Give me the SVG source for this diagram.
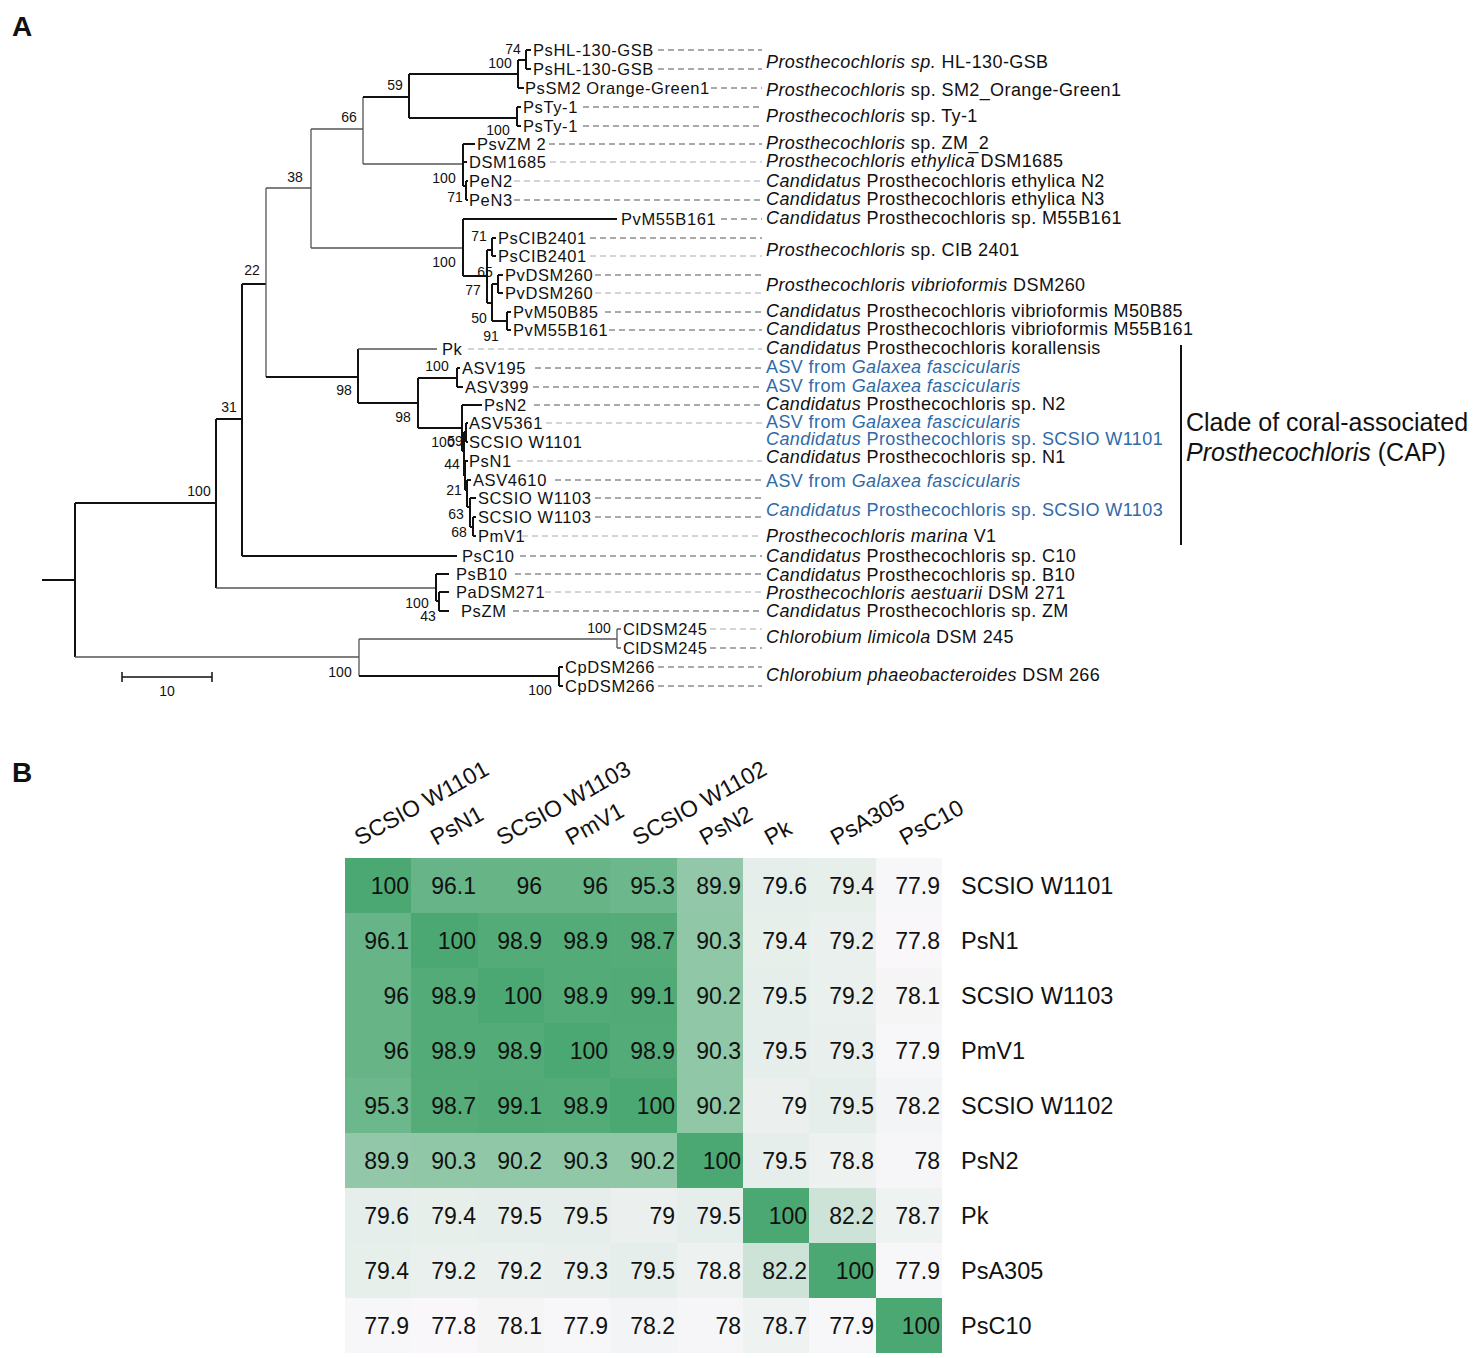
<svg xmlns="http://www.w3.org/2000/svg" width="1479" height="1358" viewBox="0 0 1479 1358">
<style>
text{font-family:"Liberation Sans",Arial,sans-serif;fill:#111}
.pl{font-size:28px;font-weight:bold}
.lf{font-size:16.5px;letter-spacing:0.6px}
.sp{font-size:14px;text-anchor:middle}
.rl{font-size:18px;letter-spacing:0.4px}
.bl{fill:#2f6aa8}
.i{font-style:italic}
.cl{font-size:25px}
.b{fill:none;stroke:#111;stroke-width:2}
.g{fill:none;stroke:#555;stroke-width:1.3}
.d{fill:none;stroke:#555;stroke-width:1;stroke-dasharray:6 4}
.dl{fill:none;stroke:#aaa;stroke-width:1;stroke-dasharray:6 4}
.hn{font-size:23px;text-anchor:end}
.hr{font-size:23.5px}
.hh{font-size:23px}
</style>
<rect width="1479" height="1358" fill="#fff"/>
<text class="pl" x="12" y="36">A</text>
<text class="pl" x="12" y="782">B</text>

<g id="tree">
<path class="b" d="M42,580H75M75,503V657M75,503H216"/>
<path class="g" d="M75,657H359"/>
<path class="b" d="M216,419V588M216,419H242"/>
<path class="g" d="M216,588H436"/>
<path class="b" d="M242,284V556M242,284H266M242,556H457"/>
<path class="g" d="M266,188V377M266,188H311"/>
<path class="b" d="M266,377H358"/>
<path class="g" d="M311,129V248M311,129H363M311,248H463"/>
<path class="g" d="M363,97V164M363,164H463"/>
<path class="b" d="M363,97H409M409,74V118M409,74H518M409,118H517"/>
<path class="b" d="M518,60V88M518,60H526M518,88H524M526,50V69M526,50H531M526,69H531"/>
<path class="b" d="M517,107V126M517,107H521M517,126H521"/>
<path class="b" d="M463,144V186M463,144H475M463,162H467M463,186H466M466,181V200M466,181H468M466,200H468"/>
<path class="b" d="M463,219V276M463,219H617M463,276H487M487,250V303M487,250H492M487,303H492"/>
<path class="b" d="M492,238V256M492,238H496M492,256H496M492,284V321M492,284H498M492,321H507M498,275V293M498,275H503M498,293H503M507,312V330M507,312H511M507,330H511"/>
<path class="b" d="M358,349V403M358,403H418M418,378V428M418,378H457M418,428H462"/>
<path class="g" d="M358,349H437"/>
<path class="b" d="M457,368V387M457,368H460M457,387H463"/>
<path class="b" d="M462,405V451M462,405H482M462,451H464M464,432V476M464,432H466M464,476H465M466,423V442M466,423H468M466,442H468"/>
<path class="b" d="M465,461V490M465,461H468M465,490H467M467,480V507M467,480H471M467,507H470M470,498V527M470,498H476M470,527H473M473,517V536M473,517H476M473,536H476"/>
<path class="b" d="M436,574V601M436,574H449M436,601H439M439,592V611M439,592H449M439,611H449"/>
<path class="g" d="M359,639V676M359,639H617M617,629V648M617,629H621M617,648H621"/>
<path class="b" d="M359,676H559M559,667V686M559,667H563M559,686H563"/>
<path class="b" d="M122,677H212M122,672V682M212,672V682" style="stroke-width:1.5"/>
</g>

<g id="dashes">
<path class="d" d="M658,50H762M658,69H762M711,88H762M583,107H762M583,126H762M549,144H762"/>
<path class="dl" d="M550,162H762M514,181H762"/>
<path class="d" d="M514,200H762M721,219H762M590,238H762"/>
<path class="dl" d="M590,256H762"/>
<path class="d" d="M595,275H762"/>
<path class="dl" d="M595,293H762"/>
<path class="d" d="M605,312H762M609,330H762"/>
<path class="dl" d="M468,349H762"/>
<path class="d" d="M535,368H762M533,387H762M534,405H762"/>
<path class="dl" d="M546,423H762M517,461H762"/>
<path class="d" d="M555,480H762M595,498H762M595,517H762"/>
<path class="dl" d="M522,536H762"/>
<path class="d" d="M520,556H762M515,574H762"/>
<path class="dl" d="M545,592H762"/>
<path class="d" d="M513,611H762"/>
<path class="dl" d="M710,629H762"/>
<path class="d" d="M710,648H762M658,667H762M658,686H762"/>
</g>

<g id="leaves">
<text class="lf" x="533" y="56">PsHL-130-GSB</text>
<text class="lf" x="533" y="75">PsHL-130-GSB</text>
<text class="lf" x="525" y="94">PsSM2 Orange-Green1</text>
<text class="lf" x="523" y="113">PsTy-1</text>
<text class="lf" x="523" y="132">PsTy-1</text>
<text class="lf" x="477" y="150">PsvZM 2</text>
<text class="lf" x="469" y="168">DSM1685</text>
<text class="lf" x="469" y="187">PeN2</text>
<text class="lf" x="469" y="206">PeN3</text>
<text class="lf" x="621" y="225">PvM55B161</text>
<text class="lf" x="498" y="244">PsCIB2401</text>
<text class="lf" x="498" y="262">PsCIB2401</text>
<text class="lf" x="505" y="281">PvDSM260</text>
<text class="lf" x="505" y="299">PvDSM260</text>
<text class="lf" x="513" y="318">PvM50B85</text>
<text class="lf" x="513" y="336">PvM55B161</text>
<text class="lf" x="442" y="355">Pk</text>
<text class="lf" x="462" y="374">ASV195</text>
<text class="lf" x="465" y="393">ASV399</text>
<text class="lf" x="484" y="411">PsN2</text>
<text class="lf" x="469" y="429">ASV5361</text>
<text class="lf" x="469" y="448">SCSIO W1101</text>
<text class="lf" x="469" y="467">PsN1</text>
<text class="lf" x="473" y="486">ASV4610</text>
<text class="lf" x="478" y="504">SCSIO W1103</text>
<text class="lf" x="478" y="523">SCSIO W1103</text>
<text class="lf" x="478" y="542">PmV1</text>
<text class="lf" x="462" y="562">PsC10</text>
<text class="lf" x="456" y="580">PsB10</text>
<text class="lf" x="456" y="598">PaDSM271</text>
<text class="lf" x="461" y="617">PsZM</text>
<text class="lf" x="623" y="635">ClDSM245</text>
<text class="lf" x="623" y="654">ClDSM245</text>
<text class="lf" x="565" y="673">CpDSM266</text>
<text class="lf" x="565" y="692">CpDSM266</text>
</g>

<g id="support">
<text class="sp" x="513" y="54">74</text>
<text class="sp" x="500" y="68">100</text>
<text class="sp" x="395" y="90">59</text>
<text class="sp" x="349" y="122">66</text>
<text class="sp" x="498" y="135">100</text>
<text class="sp" x="295" y="182">38</text>
<text class="sp" x="444" y="183">100</text>
<text class="sp" x="455" y="202">71</text>
<text class="sp" x="252" y="275">22</text>
<text class="sp" x="479" y="241">71</text>
<text class="sp" x="444" y="267">100</text>
<text class="sp" x="485" y="277">65</text>
<text class="sp" x="473" y="295">77</text>
<text class="sp" x="479" y="323">50</text>
<text class="sp" x="491" y="341">91</text>
<text class="sp" x="437" y="371">100</text>
<text class="sp" x="344" y="395">98</text>
<text class="sp" x="403" y="422">98</text>
<text class="sp" x="229" y="412">31</text>
<text class="sp" x="443" y="447">100</text>
<text class="sp" x="455" y="446">59</text>
<text class="sp" x="452" y="469">44</text>
<text class="sp" x="454" y="495">21</text>
<text class="sp" x="456" y="519">63</text>
<text class="sp" x="459" y="537">68</text>
<text class="sp" x="199" y="496">100</text>
<text class="sp" x="417" y="608">100</text>
<text class="sp" x="428" y="621">43</text>
<text class="sp" x="599" y="633">100</text>
<text class="sp" x="340" y="677">100</text>
<text class="sp" x="540" y="695">100</text>
<text class="sp" x="167" y="696">10</text>
</g>

<g id="species">
<text class="rl" x="766" y="68"><tspan class="i">Prosthecochloris sp.</tspan> HL-130-GSB</text>
<text class="rl" x="766" y="96"><tspan class="i">Prosthecochloris</tspan> sp. SM2_Orange-Green1</text>
<text class="rl" x="766" y="122"><tspan class="i">Prosthecochloris</tspan> sp. Ty-1</text>
<text class="rl" x="766" y="149"><tspan class="i">Prosthecochloris</tspan> sp. ZM_2</text>
<text class="rl" x="766" y="167"><tspan class="i">Prosthecochloris ethylica</tspan> DSM1685</text>
<text class="rl" x="766" y="187"><tspan class="i">Candidatus</tspan> Prosthecochloris ethylica N2</text>
<text class="rl" x="766" y="205"><tspan class="i">Candidatus</tspan> Prosthecochloris ethylica N3</text>
<text class="rl" x="766" y="224"><tspan class="i">Candidatus</tspan> Prosthecochloris sp. M55B161</text>
<text class="rl" x="766" y="256"><tspan class="i">Prosthecochloris</tspan> sp. CIB 2401</text>
<text class="rl" x="766" y="291"><tspan class="i">Prosthecochloris vibrioformis</tspan> DSM260</text>
<text class="rl" x="766" y="317"><tspan class="i">Candidatus</tspan> Prosthecochloris vibrioformis M50B85</text>
<text class="rl" x="766" y="335"><tspan class="i">Candidatus</tspan> Prosthecochloris vibrioformis M55B161</text>
<text class="rl" x="766" y="354"><tspan class="i">Candidatus</tspan> Prosthecochloris korallensis</text>
<text class="rl bl" x="766" y="373">ASV from <tspan class="i">Galaxea fascicularis</tspan></text>
<text class="rl bl" x="766" y="392">ASV from <tspan class="i">Galaxea fascicularis</tspan></text>
<text class="rl" x="766" y="410"><tspan class="i">Candidatus</tspan> Prosthecochloris sp. N2</text>
<text class="rl bl" x="766" y="428">ASV from <tspan class="i">Galaxea fascicularis</tspan></text>
<text class="rl bl" x="766" y="445"><tspan class="i">Candidatus</tspan> Prosthecochloris sp. SCSIO W1101</text>
<text class="rl" x="766" y="463"><tspan class="i">Candidatus</tspan> Prosthecochloris sp. N1</text>
<text class="rl bl" x="766" y="487">ASV from <tspan class="i">Galaxea fascicularis</tspan></text>
<text class="rl bl" x="766" y="516"><tspan class="i">Candidatus</tspan> Prosthecochloris sp. SCSIO W1103</text>
<text class="rl" x="766" y="542"><tspan class="i">Prosthecochloris marina</tspan> V1</text>
<text class="rl" x="766" y="562"><tspan class="i">Candidatus</tspan> Prosthecochloris sp. C10</text>
<text class="rl" x="766" y="581"><tspan class="i">Candidatus</tspan> Prosthecochloris sp. B10</text>
<text class="rl" x="766" y="599"><tspan class="i">Prosthecochloris aestuarii</tspan> DSM 271</text>
<text class="rl" x="766" y="617"><tspan class="i">Candidatus</tspan> Prosthecochloris sp. ZM</text>
<text class="rl" x="766" y="643"><tspan class="i">Chlorobium limicola</tspan> DSM 245</text>
<text class="rl" x="766" y="681"><tspan class="i">Chlorobium phaeobacteroides</tspan> DSM 266</text>
</g>

<g id="clade">
<path d="M1181,345V545" stroke="#111" stroke-width="2" fill="none"/>
<text class="cl" x="1186" y="431">Clade of coral-associated</text>
<text class="cl" x="1186" y="461"><tspan class="i">Prosthecochloris</tspan> (CAP)</text>
</g>

<g id="heatmap">
<g shape-rendering="crispEdges">
<rect x="345" y="858" width="66" height="55" fill="#4ca872"/><rect x="411" y="858" width="67" height="55" fill="#66b487"/><rect x="478" y="858" width="66" height="55" fill="#67b487"/><rect x="544" y="858" width="66" height="55" fill="#67b487"/><rect x="610" y="858" width="67" height="55" fill="#6cb78b"/><rect x="677" y="858" width="66" height="55" fill="#92c8a9"/><rect x="743" y="858" width="66" height="55" fill="#e5eeea"/><rect x="809" y="858" width="67" height="55" fill="#e7efeb"/><rect x="876" y="858" width="66" height="55" fill="#f7f6f9"/>
<rect x="345" y="913" width="66" height="55" fill="#66b487"/><rect x="411" y="913" width="67" height="55" fill="#4ca872"/><rect x="478" y="913" width="66" height="55" fill="#53ab78"/><rect x="544" y="913" width="66" height="55" fill="#53ab78"/><rect x="610" y="913" width="67" height="55" fill="#55ac79"/><rect x="677" y="913" width="66" height="55" fill="#8fc7a7"/><rect x="743" y="913" width="66" height="55" fill="#e7efeb"/><rect x="809" y="913" width="67" height="55" fill="#e9f0ed"/><rect x="876" y="913" width="66" height="55" fill="#f9f7fa"/>
<rect x="345" y="968" width="66" height="55" fill="#67b487"/><rect x="411" y="968" width="67" height="55" fill="#53ab78"/><rect x="478" y="968" width="66" height="55" fill="#4ca872"/><rect x="544" y="968" width="66" height="55" fill="#53ab78"/><rect x="610" y="968" width="67" height="55" fill="#52ab77"/><rect x="677" y="968" width="66" height="55" fill="#90c7a7"/><rect x="743" y="968" width="66" height="55" fill="#e6eeeb"/><rect x="809" y="968" width="67" height="55" fill="#e9f0ed"/><rect x="876" y="968" width="66" height="55" fill="#f5f5f6"/>
<rect x="345" y="1023" width="66" height="55" fill="#67b487"/><rect x="411" y="1023" width="67" height="55" fill="#53ab78"/><rect x="478" y="1023" width="66" height="55" fill="#53ab78"/><rect x="544" y="1023" width="66" height="55" fill="#4ca872"/><rect x="610" y="1023" width="67" height="55" fill="#53ab78"/><rect x="677" y="1023" width="66" height="55" fill="#8fc7a7"/><rect x="743" y="1023" width="66" height="55" fill="#e6eeeb"/><rect x="809" y="1023" width="67" height="55" fill="#e8efec"/><rect x="876" y="1023" width="66" height="55" fill="#f7f6f9"/>
<rect x="345" y="1078" width="66" height="55" fill="#6cb78b"/><rect x="411" y="1078" width="67" height="55" fill="#55ac79"/><rect x="478" y="1078" width="66" height="55" fill="#52ab77"/><rect x="544" y="1078" width="66" height="55" fill="#53ab78"/><rect x="610" y="1078" width="67" height="55" fill="#4ca872"/><rect x="677" y="1078" width="66" height="55" fill="#90c7a7"/><rect x="743" y="1078" width="66" height="55" fill="#ebf0ef"/><rect x="809" y="1078" width="67" height="55" fill="#e6eeeb"/><rect x="876" y="1078" width="66" height="55" fill="#f3f4f5"/>
<rect x="345" y="1133" width="66" height="55" fill="#92c8a9"/><rect x="411" y="1133" width="67" height="55" fill="#8fc7a7"/><rect x="478" y="1133" width="66" height="55" fill="#90c7a7"/><rect x="544" y="1133" width="66" height="55" fill="#8fc7a7"/><rect x="610" y="1133" width="67" height="55" fill="#90c7a7"/><rect x="677" y="1133" width="66" height="55" fill="#4ca872"/><rect x="743" y="1133" width="66" height="55" fill="#e6eeeb"/><rect x="809" y="1133" width="67" height="55" fill="#edf1f0"/><rect x="876" y="1133" width="66" height="55" fill="#f6f6f8"/>
<rect x="345" y="1188" width="66" height="55" fill="#e5eeea"/><rect x="411" y="1188" width="67" height="55" fill="#e7efeb"/><rect x="478" y="1188" width="66" height="55" fill="#e6eeeb"/><rect x="544" y="1188" width="66" height="55" fill="#e6eeeb"/><rect x="610" y="1188" width="67" height="55" fill="#ebf0ef"/><rect x="677" y="1188" width="66" height="55" fill="#e6eeeb"/><rect x="743" y="1188" width="66" height="55" fill="#4ca872"/><rect x="809" y="1188" width="67" height="55" fill="#cde3d8"/><rect x="876" y="1188" width="66" height="55" fill="#eef2f1"/>
<rect x="345" y="1243" width="66" height="55" fill="#e7efeb"/><rect x="411" y="1243" width="67" height="55" fill="#e9f0ed"/><rect x="478" y="1243" width="66" height="55" fill="#e9f0ed"/><rect x="544" y="1243" width="66" height="55" fill="#e8efec"/><rect x="610" y="1243" width="67" height="55" fill="#e6eeeb"/><rect x="677" y="1243" width="66" height="55" fill="#edf1f0"/><rect x="743" y="1243" width="66" height="55" fill="#cde3d8"/><rect x="809" y="1243" width="67" height="55" fill="#4ca872"/><rect x="876" y="1243" width="66" height="55" fill="#f7f6f9"/>
<rect x="345" y="1298" width="66" height="55" fill="#f7f6f9"/><rect x="411" y="1298" width="67" height="55" fill="#f9f7fa"/><rect x="478" y="1298" width="66" height="55" fill="#f5f5f6"/><rect x="544" y="1298" width="66" height="55" fill="#f7f6f9"/><rect x="610" y="1298" width="67" height="55" fill="#f3f4f5"/><rect x="677" y="1298" width="66" height="55" fill="#f6f6f8"/><rect x="743" y="1298" width="66" height="55" fill="#eef2f1"/><rect x="809" y="1298" width="67" height="55" fill="#f7f6f9"/><rect x="876" y="1298" width="66" height="55" fill="#4ca872"/>
</g>
<g class="hn">
<text class="hn" x="409" y="894">100</text><text class="hn" x="476" y="894">96.1</text><text class="hn" x="542" y="894">96</text><text class="hn" x="608" y="894">96</text><text class="hn" x="675" y="894">95.3</text><text class="hn" x="741" y="894">89.9</text><text class="hn" x="807" y="894">79.6</text><text class="hn" x="874" y="894">79.4</text><text class="hn" x="940" y="894">77.9</text>
<text class="hn" x="409" y="949">96.1</text><text class="hn" x="476" y="949">100</text><text class="hn" x="542" y="949">98.9</text><text class="hn" x="608" y="949">98.9</text><text class="hn" x="675" y="949">98.7</text><text class="hn" x="741" y="949">90.3</text><text class="hn" x="807" y="949">79.4</text><text class="hn" x="874" y="949">79.2</text><text class="hn" x="940" y="949">77.8</text>
<text class="hn" x="409" y="1004">96</text><text class="hn" x="476" y="1004">98.9</text><text class="hn" x="542" y="1004">100</text><text class="hn" x="608" y="1004">98.9</text><text class="hn" x="675" y="1004">99.1</text><text class="hn" x="741" y="1004">90.2</text><text class="hn" x="807" y="1004">79.5</text><text class="hn" x="874" y="1004">79.2</text><text class="hn" x="940" y="1004">78.1</text>
<text class="hn" x="409" y="1059">96</text><text class="hn" x="476" y="1059">98.9</text><text class="hn" x="542" y="1059">98.9</text><text class="hn" x="608" y="1059">100</text><text class="hn" x="675" y="1059">98.9</text><text class="hn" x="741" y="1059">90.3</text><text class="hn" x="807" y="1059">79.5</text><text class="hn" x="874" y="1059">79.3</text><text class="hn" x="940" y="1059">77.9</text>
<text class="hn" x="409" y="1114">95.3</text><text class="hn" x="476" y="1114">98.7</text><text class="hn" x="542" y="1114">99.1</text><text class="hn" x="608" y="1114">98.9</text><text class="hn" x="675" y="1114">100</text><text class="hn" x="741" y="1114">90.2</text><text class="hn" x="807" y="1114">79</text><text class="hn" x="874" y="1114">79.5</text><text class="hn" x="940" y="1114">78.2</text>
<text class="hn" x="409" y="1169">89.9</text><text class="hn" x="476" y="1169">90.3</text><text class="hn" x="542" y="1169">90.2</text><text class="hn" x="608" y="1169">90.3</text><text class="hn" x="675" y="1169">90.2</text><text class="hn" x="741" y="1169">100</text><text class="hn" x="807" y="1169">79.5</text><text class="hn" x="874" y="1169">78.8</text><text class="hn" x="940" y="1169">78</text>
<text class="hn" x="409" y="1224">79.6</text><text class="hn" x="476" y="1224">79.4</text><text class="hn" x="542" y="1224">79.5</text><text class="hn" x="608" y="1224">79.5</text><text class="hn" x="675" y="1224">79</text><text class="hn" x="741" y="1224">79.5</text><text class="hn" x="807" y="1224">100</text><text class="hn" x="874" y="1224">82.2</text><text class="hn" x="940" y="1224">78.7</text>
<text class="hn" x="409" y="1279">79.4</text><text class="hn" x="476" y="1279">79.2</text><text class="hn" x="542" y="1279">79.2</text><text class="hn" x="608" y="1279">79.3</text><text class="hn" x="675" y="1279">79.5</text><text class="hn" x="741" y="1279">78.8</text><text class="hn" x="807" y="1279">82.2</text><text class="hn" x="874" y="1279">100</text><text class="hn" x="940" y="1279">77.9</text>
<text class="hn" x="409" y="1334">77.9</text><text class="hn" x="476" y="1334">77.8</text><text class="hn" x="542" y="1334">78.1</text><text class="hn" x="608" y="1334">77.9</text><text class="hn" x="675" y="1334">78.2</text><text class="hn" x="741" y="1334">78</text><text class="hn" x="807" y="1334">78.7</text><text class="hn" x="874" y="1334">77.9</text><text class="hn" x="940" y="1334">100</text>
</g>
<text class="hr" x="961" y="894">SCSIO W1101</text>
<text class="hr" x="961" y="949">PsN1</text>
<text class="hr" x="961" y="1004">SCSIO W1103</text>
<text class="hr" x="961" y="1059">PmV1</text>
<text class="hr" x="961" y="1114">SCSIO W1102</text>
<text class="hr" x="961" y="1169">PsN2</text>
<text class="hr" x="961" y="1224">Pk</text>
<text class="hr" x="961" y="1279">PsA305</text>
<text class="hr" x="961" y="1334">PsC10</text>
<text class="hh" transform="translate(360,846) rotate(-29)">SCSIO W1101</text>
<text class="hh" transform="translate(436,846) rotate(-29)">PsN1</text>
<text class="hh" transform="translate(502,846) rotate(-29)">SCSIO W1103</text>
<text class="hh" transform="translate(571,846) rotate(-29)">PmV1</text>
<text class="hh" transform="translate(638,846) rotate(-29)">SCSIO W1102</text>
<text class="hh" transform="translate(705,846) rotate(-29)">PsN2</text>
<text class="hh" transform="translate(770,846) rotate(-29)">Pk</text>
<text class="hh" transform="translate(836,846) rotate(-29)">PsA305</text>
<text class="hh" transform="translate(905,846) rotate(-29)">PsC10</text>
</g>
</svg>
